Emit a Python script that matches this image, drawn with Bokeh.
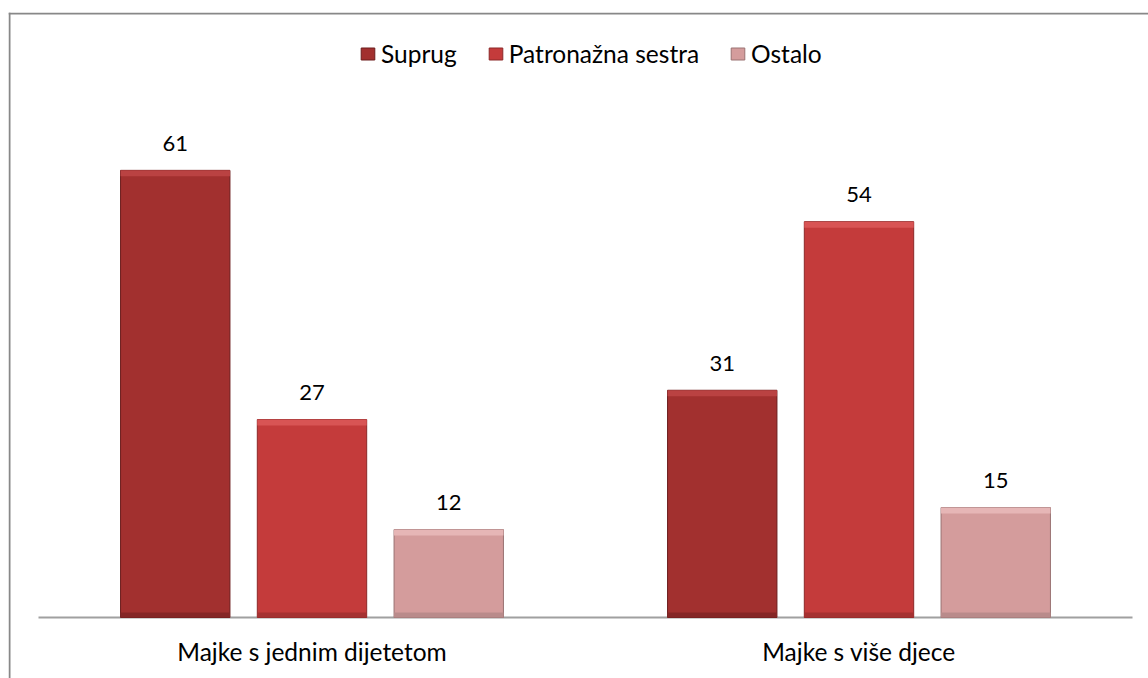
from bokeh.plotting import figure
from bokeh.models import Range1d, Span, Legend, LegendItem, ColumnDataSource
from bokeh.core.properties import value
from bokeh.embed import file_html
from bokeh.resources import INLINE

# ---- data ----
categories = ["Majke s jednim dijetetom", "Majke s više djece"]
series = ["Suprug", "Patronažna sestra", "Ostalo"]
suprug = [61, 31]
patronazna = [27, 54]
ostalo = [12, 15]

# ---- style ----
colors = ["#A2302F", "#C43B3B", "#D49C9C"]
hilite = ["#BA4242", "#D85454", "#E6B6B6"]
shade = ["#852626", "#A53131", "#B98B8B"]
edges = ["#6C1D1D", "#8C2828", "#9A7272"]
FONT = "Lato"
FS = "24.5px"
FS_VAL = "22px"

W, H = 1148, 678
FRAME_LEFT = 8
FRAME_TOP = 12
PX_PER_CAT = 547.0
AXIS_LEFT = 38.0
PX_PER_UNIT = 7.33
BASE_Y = 617.0

x_start = -(AXIS_LEFT - FRAME_LEFT) / PX_PER_CAT
x_end = x_start + (W - FRAME_LEFT) / PX_PER_CAT
y_start = -(H - BASE_Y) / PX_PER_UNIT
y_end = y_start + (H - FRAME_TOP) / PX_PER_UNIT

p = figure(width=W, height=H, title=None,
           x_range=Range1d(x_start, x_end), y_range=Range1d(y_start, y_end),
           output_backend="svg", toolbar_location=None,
           min_border_left=FRAME_LEFT, min_border_right=0, min_border_top=FRAME_TOP,
           min_border_bottom=0, x_axis_location=None, y_axis_location=None)
p.grid.visible = False
p.outline_line_color = None
p.background_fill_color = "white"
p.border_fill_color = "white"

offsets = [-0.25, 0.0, 0.25]
bar_w = 0.2
idx = list(range(len(categories)))
values = [suprug, patronazna, ostalo]

# axis line
p.segment(x0=[0], y0=[0], x1=[len(categories)], y1=[0], line_color="#A0A0A0", line_width=2)

items = []
for s, (name, vals) in enumerate(zip(series, values)):
    xs = [i + 0.5 + offsets[s] for i in idx]
    src = ColumnDataSource(dict(
        x=xs, top=vals,
        hl=[v - 6 / PX_PER_UNIT for v in vals],
        sh=[5 / PX_PER_UNIT for v in vals],
        label=[str(v) for v in vals]))
    r = p.vbar(x="x", top="top", bottom=0, width=bar_w, source=src,
               fill_color=colors[s], line_color=edges[s], line_width=1)
    p.vbar(x="x", top="top", bottom="hl", width=bar_w, source=src,
           fill_color=hilite[s], line_color=None)
    p.vbar(x="x", top="sh", bottom=0, width=bar_w, source=src,
           fill_color=shade[s], line_color=None)
    p.text(x="x", y="top", text="label", source=src, text_align="center",
           text_baseline="middle", y_offset=-27, text_font=value(FONT),
           text_font_size=FS_VAL, text_color="#000000")
    items.append(LegendItem(label=name, renderers=[r]))

cat_src = ColumnDataSource(dict(x=[i + 0.5 for i in idx], y=[0] * len(idx), t=categories))
p.text(x="x", y="y", text="t", source=cat_src, text_align="center",
       text_baseline="middle", y_offset=34, text_font=value(FONT),
       text_font_size=FS, text_color="#000000")

# border (left & top)
p.add_layout(Span(location=x_start + 1 / PX_PER_CAT, dimension="height",
                  line_color="#888888", line_width=2))
p.add_layout(Span(location=y_end - 1 / PX_PER_UNIT, dimension="width",
                  line_color="#888888", line_width=2))

legend = Legend(items=items, orientation="horizontal", location=(351, 610),
                glyph_width=17, glyph_height=15, label_standoff=5, spacing=30,
                padding=0, margin=0, border_line_color=None,
                background_fill_alpha=0, label_text_font=FONT,
                label_text_font_size=FS, label_text_color="#000000")
p.add_layout(legend)

open("out.html", "w").write(file_html(p, INLINE))
